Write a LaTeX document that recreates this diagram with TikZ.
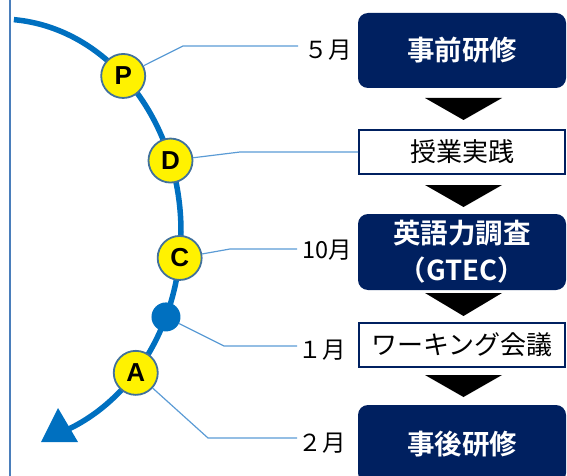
\documentclass[tikz,border=0pt]{standalone}
\usepackage{fontspec}
\setmainfont{Liberation Sans}
\newfontfamily\jp{Noto Sans CJK JP}[BoldFont={Noto Sans CJK JP Bold}]
\usetikzlibrary{calc}
\definecolor{navy}{HTML}{002060}
\definecolor{arcblue}{HTML}{0070C0}
\definecolor{leader}{HTML}{5B9BD5}
\definecolor{ring}{HTML}{41719C}
\definecolor{edgeblue}{HTML}{4A7EBB}
\begin{document}
\begin{tikzpicture}[x=1pt,y=-1pt,
  darkbox/.style={fill=navy, rounded corners=10pt, minimum width=208pt, text=white, font=\jp\bfseries\fontsize{27.5}{37}\selectfont, align=center, inner sep=0pt},
  whitebox/.style={draw=navy, line width=2pt, fill=white, minimum width=206pt, minimum height=44pt, font=\jp\fontsize{26}{28}\selectfont, inner sep=0pt},
  stage/.style={circle, fill=yellow, draw=ring, line width=1.8pt, minimum size=44pt, inner sep=0pt, font=\bfseries\fontsize{26}{28}\selectfont},
  waypoint/.style={circle, fill=arcblue, minimum size=29pt, inner sep=0pt},
  month/.style={anchor=east, font=\jp\fontsize{23.5}{26}\selectfont, inner sep=0pt},
  leaderline/.style={draw=leader, line width=1.2pt},
  flowarrow/.style={fill=black}
]
\useasboundingbox (0,0) rectangle (567,476);
\clip (0,0) rectangle (567,476);

% left frame line
\draw[edgeblue, line width=2pt] (10,0) -- (10,476);

% cycle arc
\draw[arcblue, line width=5.5pt] (0,232) ++({181*cos(-85.6)},{213*sin(-85.6)})
  arc[start angle=-85.6, end angle=68.3, x radius=181, y radius=213];
\fill[arcblue] (41,442) -- (78,442) -- (58,408) -- cycle;

% boxes
\node[darkbox, minimum height=75pt] (b1) at (462,50.5) {事前研修};
\node[whitebox] (b2) at (462,152) {授業実践};
\node[darkbox, minimum height=76pt] (b3) at (462,252) {英語力調査\\（GTEC）};
\node[whitebox] (b4) at (462,345) {ワーキング会議};
\node[darkbox, minimum height=78pt] (b5) at (462,444) {事後研修};

% flow arrows
\fill[flowarrow] (425,98) -- (502,98) -- (463.5,120) -- cycle;
\fill[flowarrow] (425,185) -- (502,185) -- (463.5,207) -- cycle;
\fill[flowarrow] (425,293) -- (502,293) -- (463.5,316) -- cycle;
\fill[flowarrow] (425,375) -- (502,375) -- (463.5,397) -- cycle;

% stage markers
\node[stage] (P) at ({181*cos(-47.1)},{232+213*sin(-47.1)}) {P};
\node[stage] (D) at ({181*cos(-19.6)},{232+213*sin(-19.6)}) {D};
\node[stage] (C) at ({181*cos(7)},{232+213*sin(7)}) {C};
\node[waypoint] (W) at ({181*cos(23.5)},{232+213*sin(23.5)}) {};
\node[stage] (A) at ({181*cos(41.4)},{232+213*sin(41.4)}) {A};

% leader coordinates
\coordinate (p1) at (183,46);  \coordinate (p2) at (298,46);
\coordinate (d1) at (240,152);
\coordinate (c1) at (230,249); \coordinate (c2) at (297,249);
\coordinate (w1) at (224,346); \coordinate (w2) at (297,346);
\coordinate (a1) at (208,438); \coordinate (a2) at (297,438);

\draw[leaderline] (P) -- (p1) -- (p2);
\draw[leaderline] (D) -- (d1) -- (b2.west);
\draw[leaderline] (C) -- (c1) -- (c2);
\draw[leaderline] (W) -- (w1) -- (w2);
\draw[leaderline] (A) -- (a1) -- (a2);

% month labels
\node[month] (m1) at (352,50) {５月};
\node[month] (m2) at (352,250) {10月};
\node[month] (m3) at (346,350) {１月};
\node[month] (m4) at (346,443) {２月};
\end{tikzpicture}
\end{document}
